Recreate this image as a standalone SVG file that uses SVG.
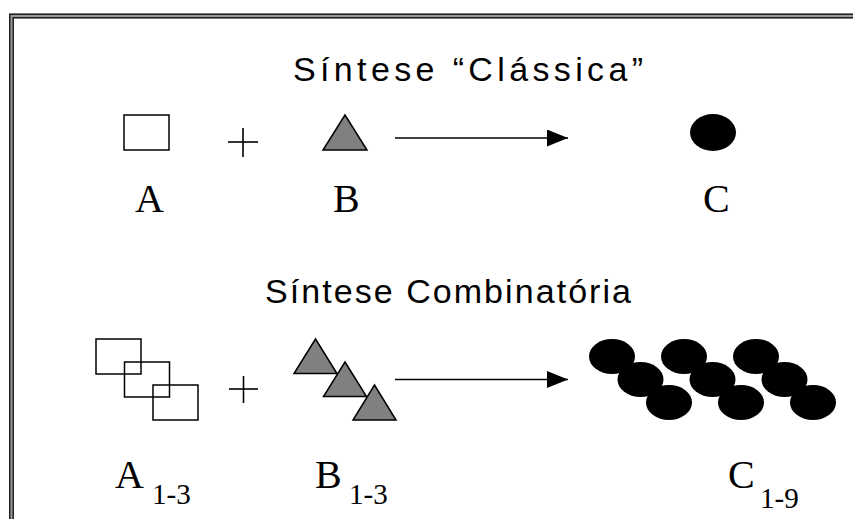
<svg xmlns="http://www.w3.org/2000/svg" width="853" height="519" viewBox="0 0 853 519">
  <defs>
    <style>
      .title { font-family: "Liberation Sans", Arial, sans-serif; font-size: 34px; fill: #000; }
      .lbl { font-family: "Liberation Serif", "Times New Roman", serif; font-size: 40px; fill: #000; }
      .sub { font-family: "Liberation Serif", "Times New Roman", serif; font-size: 29px; fill: #000; }
      .box { fill: none; stroke: #000; stroke-width: 1.5; }
      .tri { fill: #808080; stroke: #000; stroke-width: 1.5; stroke-linejoin: miter; }
      .dot { fill: #000; }
      .plus { stroke: #000; stroke-width: 1.6; }
      .conn { stroke: #000; stroke-width: 1.5; fill: none; }
    </style>
    <marker id="arrow" viewBox="0 0 21 17" refX="21" refY="8.5" markerWidth="21" markerHeight="17" markerUnits="userSpaceOnUse" orient="auto">
      <path d="M0,0 L21,8.5 L0,17 Z" fill="#000"/>
    </marker>
  </defs>
  <rect width="853" height="519" fill="#fff"/>
  <g id="frame">
    <rect x="11.5" y="16" width="860" height="520" fill="none" stroke="#999" stroke-width="5"/>
    <rect x="9.75" y="14.25" width="860" height="520" fill="none" stroke="#222" stroke-width="1.5"/>
    <rect x="13.25" y="17.75" width="860" height="520" fill="none" stroke="#222" stroke-width="1.5"/>
  </g>
  <g id="title-classica">
    <text class="title" x="293" y="81" textLength="350" lengthAdjust="spacing">Síntese “Clássica”</text>
  </g>
  <g id="title-combinatoria">
    <text class="title" x="265" y="303" textLength="366" lengthAdjust="spacing">Síntese Combinatória</text>
  </g>
  <g id="node-A">
    <rect class="box" x="124" y="115" width="45" height="35"/>
    <text class="lbl" x="135" y="212">A</text>
  </g>
  <g id="plus-1">
    <line class="plus" x1="228" y1="142" x2="258" y2="142"/>
    <line class="plus" x1="243" y1="128" x2="243" y2="157"/>
  </g>
  <g id="node-B">
    <polygon class="tri" points="345,115 367,150 323,150"/>
    <text class="lbl" x="333" y="212">B</text>
  </g>
  <g id="node-C">
    <ellipse class="dot" cx="713" cy="132.5" rx="23" ry="18.5"/>
    <text class="lbl" x="703" y="212">C</text>
  </g>
  <g id="node-A13">
    <rect class="box" x="96" y="339" width="45" height="35"/>
    <rect class="box" x="124.5" y="362" width="45" height="35"/>
    <rect class="box" x="153" y="385" width="45" height="35"/>
    <text class="lbl" x="115" y="488">A</text>
    <text class="sub" x="152" y="504">1-3</text>
  </g>
  <g id="plus-2">
    <line class="plus" x1="229" y1="389" x2="258" y2="389"/>
    <line class="plus" x1="243.5" y1="376" x2="243.5" y2="403"/>
  </g>
  <g id="node-B13">
    <polygon class="tri" points="315.5,339 337,373.5 294,373.5"/>
    <polygon class="tri" points="345,362 366.5,396.5 323.5,396.5"/>
    <polygon class="tri" points="374.5,385 396,420 353,420"/>
    <text class="lbl" x="315" y="488">B</text>
    <text class="sub" x="349" y="504">1-3</text>
  </g>
  <g id="node-C19">
    <ellipse class="dot" cx="612" cy="356.5" rx="23" ry="17.5"/>
    <ellipse class="dot" cx="640.5" cy="379.5" rx="23" ry="17.5"/>
    <ellipse class="dot" cx="669" cy="402.5" rx="23" ry="17.5"/>
    <ellipse class="dot" cx="684" cy="356.5" rx="23" ry="17.5"/>
    <ellipse class="dot" cx="712.5" cy="379.5" rx="23" ry="17.5"/>
    <ellipse class="dot" cx="741" cy="402.5" rx="23" ry="17.5"/>
    <ellipse class="dot" cx="756" cy="356.5" rx="23" ry="17.5"/>
    <ellipse class="dot" cx="784.5" cy="379.5" rx="23" ry="17.5"/>
    <ellipse class="dot" cx="813" cy="402.5" rx="23" ry="17.5"/>
    <text class="lbl" x="728" y="488">C</text>
    <text class="sub" x="760" y="508">1-9</text>
  </g>
  <g id="connectors">
    <line class="conn" x1="395" y1="138" x2="568" y2="138" marker-end="url(#arrow)"/>
    <line class="conn" x1="395" y1="379.5" x2="568" y2="379.5" marker-end="url(#arrow)"/>
  </g>
</svg>
